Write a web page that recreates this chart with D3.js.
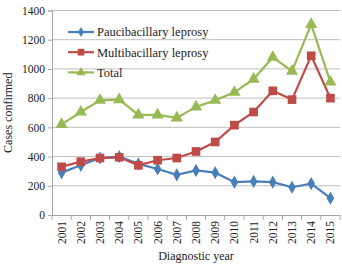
<!DOCTYPE html>
<meta charset="utf-8">
<head>
<script src="https://d3js.org/d3.v7.min.js"></script>
<style>
  body { margin: 0; background: #fff; }
  text { font-family: "Liberation Serif", "DejaVu Serif", serif; fill: #222; }
  .grid line { stroke: #bfbfbf; }
  .axis path, .axis line { stroke: #a6a6a6; }
</style>
</head>
<body>
<svg width="342" height="264"></svg>
<script>
var years = ["2001","2002","2003","2004","2005","2006","2007","2008","2009","2010","2011","2012","2013","2014","2015"];
var pauci = [290, 340, 390, 400, 350, 315, 275, 305, 290, 225, 230, 225, 190, 215, 115];
var multi = [330, 365, 390, 395, 340, 375, 390, 435, 500, 615, 705, 850, 790, 1090, 800];
var total = [620, 705, 785, 790, 685, 685, 665, 740, 785, 840, 930, 1080, 985, 1305, 910];
var yTicks = [0, 200, 400, 600, 800, 1000, 1200, 1400];

var series = [
  {name: "Paucibacillary leprosy", values: pauci, color: "#4a7ebb", shape: d3.symbolDiamond, size: 50},
  {name: "Multibacillary leprosy", values: multi, color: "#be4b48", shape: d3.symbolSquare, size: 75},
  {name: "Total", values: total, color: "#98b954", shape: d3.symbolTriangle, size: 65}
];

var svg = d3.select("svg");
var plotL = 52, plotR = 340, plotT = 10.5, plotB = 215;

var x = d3.scaleBand().domain(years).range([plotL, plotR]);
var y = d3.scaleLinear().domain([0, 1400]).range([plotB, plotT]);

// gridlines
svg.append("g").attr("class", "grid")
  .selectAll("line").data(yTicks.slice(1)).enter().append("line")
  .attr("x1", plotL).attr("x2", plotR)
  .attr("y1", function(d) { return y(d); }).attr("y2", function(d) { return y(d); });

// y axis
var ya = svg.append("g").attr("class", "axis")
  .attr("transform", "translate(" + plotL + ",0)")
  .call(d3.axisLeft(y).tickValues(yTicks).tickSize(4).tickPadding(3).tickFormat(d3.format("d")));
ya.selectAll("text").style("font-size", "11.5px");

// x axis
var xa = svg.append("g").attr("class", "axis")
  .attr("transform", "translate(0," + plotB + ")")
  .call(d3.axisBottom(x).tickSize(0).tickPadding(0));
xa.selectAll(".tick text")
  .style("font-size", "11.5px")
  .attr("transform", "rotate(-90)")
  .attr("text-anchor", "end")
  .attr("x", -6).attr("y", 0).attr("dy", "0.35em");
// category separators
xa.selectAll(".sep").data(years.concat(["end"])).enter().append("line")
  .attr("x1", function(d, i) { return plotL + i * x.bandwidth(); })
  .attr("x2", function(d, i) { return plotL + i * x.bandwidth(); })
  .attr("y1", 0).attr("y2", 5);

var line = d3.line()
  .x(function(d, i) { return x(years[i]) + x.bandwidth() / 2; })
  .y(function(d) { return y(d); });

series.forEach(function(s) {
  svg.append("path").datum(s.values)
    .attr("d", line).attr("fill", "none")
    .attr("stroke", s.color).attr("stroke-width", 2.2);
  svg.selectAll(null).data(s.values).enter().append("path")
    .attr("d", d3.symbol().type(s.shape).size(s.size))
    .attr("fill", s.color)
    .attr("transform", function(d, i) {
      return "translate(" + (x(years[i]) + x.bandwidth() / 2) + "," + y(d) + ")";
    });
});

// legend
var lg = svg.append("g");
series.forEach(function(s, i) {
  var ly = 32 + i * 20.2;
  lg.append("line").attr("x1", 68).attr("x2", 94).attr("y1", ly).attr("y2", ly)
    .attr("stroke", s.color).attr("stroke-width", 2.2);
  lg.append("path").attr("d", d3.symbol().type(s.shape).size(s.size * 0.6))
    .attr("fill", s.color).attr("transform", "translate(81," + ly + ")");
  lg.append("text").attr("x", 97).attr("y", ly).attr("dy", "0.35em")
    .style("font-size", "12.5px").text(s.name);
});

// axis titles
svg.append("text")
  .attr("transform", "translate(12," + ((plotT + plotB) / 2) + ") rotate(-90)")
  .attr("text-anchor", "middle").style("font-size", "12px")
  .text("Cases confirmed");
svg.append("text")
  .attr("x", (plotL + plotR) / 2).attr("y", 260)
  .attr("text-anchor", "middle").style("font-size", "12px")
  .text("Diagnostic year");
</script>
</body>
